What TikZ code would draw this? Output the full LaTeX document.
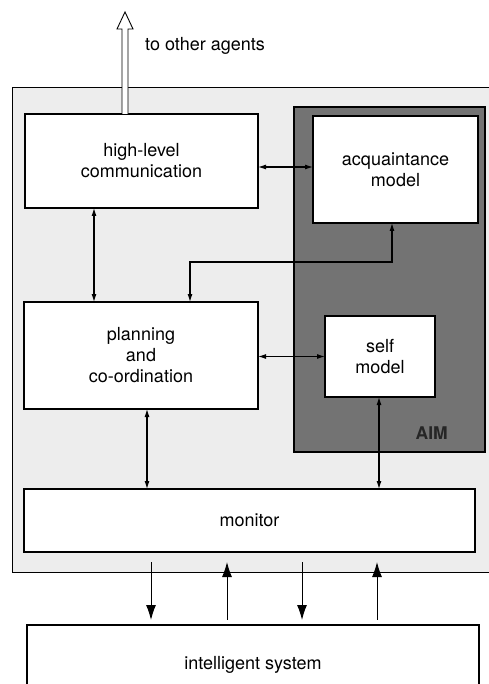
\documentclass[tikz,border=0pt]{standalone}
\usepackage{fontspec}
\setmainfont{TeX Gyre Heros}
\usetikzlibrary{arrows.meta, positioning}

\begin{document}
\begin{tikzpicture}[x=1pt,y=-1pt,
         font=\fontsize{18}{21}\selectfont,
         block/.style={draw,fill=white,line width=1.1pt,align=center,inner sep=0pt,outer sep=0pt,anchor=north west},
         frame/.style={draw,fill=black!7,line width=1pt,inner sep=0pt,outer sep=0pt,anchor=north west},
         aim/.style={draw,fill=black!55,line width=1.2pt,inner sep=0pt,outer sep=0pt,anchor=north west},
         link/.style={<->,>={Latex[length=8pt,width=5pt]},line width=1.1pt},
         io/.style={>={Latex[length=15pt,width=10pt]},line width=1pt,shorten <=10pt,shorten >=5pt},
         hollow/.style={draw,fill=white,line width=0.9pt}] %everything in pixel units, y runs down
 
       \useasboundingbox (0,0) rectangle (488,684);

       % backgrounds
       \node[frame, minimum width=490pt, minimum height=484pt] (agent) at (12,88) {};
       \node[aim, minimum width=191pt, minimum height=345pt] (aim) at (294,107) {};
       \node[anchor=south east, font=\fontsize{17.5}{21}\selectfont\bfseries, text=black!85, inner sep=0pt]
            (aimlabel) at ([xshift=-37pt,yshift=12pt]aim.south east) {AIM};

       % boxes
       \node[block, minimum width=233pt, minimum height=94pt] (comm) at (25,114) {high-level\\communication};
       \node[block, minimum width=165pt, minimum height=107pt] (acq) at (313,116) {acquaintance\\model};
       \node[block, minimum width=234pt, minimum height=107pt] (plan) at (24,302) {planning\\and\\co-ordination};
       \node[block, minimum width=110pt, minimum height=81pt] (self) at (325,316) {self\\model};
       \node[block, minimum width=451pt, minimum height=63pt] (mon) at (24,489) {monitor};
       \node[block, minimum width=452pt, minimum height=80pt] (sys) at (27,625) {intelligent system};

       % out to other agents
       \coordinate (out) at (125,12);
       \draw[hollow] ([xshift=-3pt]comm.north -| out) -- ++(0,-85) -- ++(-5,0) -- (out) -- ++(8,17) -- ++(-5,0) -- ++(0,85);
       \node[anchor=west, inner sep=0pt] (outlabel) at (145,46) {to other agents};

       % connectors
       \draw[link] ([yshift=-6pt]comm.east) -- ([yshift=-6pt]comm.east -| acq.west);
       \draw[link] (comm.south -| 94,0) -- (plan.north -| 94,0);
       \draw[link] (acq.south -| 392,0) -- ++(0,39) -| (plan.north -| 190,0);
       \draw[link] (plan.east |- self.west) -- (self.west);
       \draw[link] (plan.south -| 147,0) -- (mon.north -| 147,0);
       \draw[link] (self.south -| 379,0) -- (mon.north -| 379,0);

       \foreach \x in {151,302} {
        \draw[io,->] (mon.south -| \x,0) -- (sys.north -| \x,0);}
       \foreach \x in {227,377} {
        \draw[io,<-] (mon.south -| \x,0) -- (sys.north -| \x,0);}
      \end{tikzpicture}
\end{document}
